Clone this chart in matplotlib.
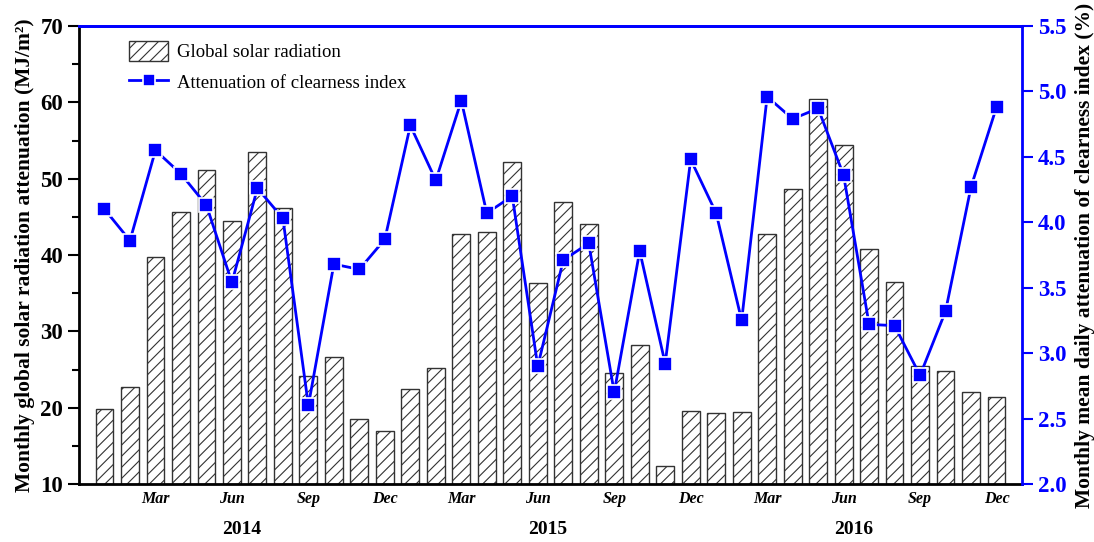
import matplotlib
matplotlib.use("Agg")
import matplotlib.pyplot as plt
from matplotlib.ticker import MultipleLocator
from matplotlib.lines import Line2D
from matplotlib.patches import Patch
import matplotlib.transforms as mtransforms

plt.rcParams['font.family'] = ['Liberation Serif', 'DejaVu Serif']
plt.rcParams['hatch.linewidth'] = 0.8

# Monthly series, Jan 2014 .. Dec 2016
month_index = list(range(1, 37))
radiation = [19.8, 22.7, 39.8, 45.6, 51.2, 44.5, 53.5, 46.2, 24.2, 26.7, 18.5, 16.9,
             22.5, 25.2, 42.8, 43.0, 52.2, 36.3, 46.9, 44.1, 24.6, 28.2, 12.4, 19.6,
             19.3, 19.4, 42.8, 48.7, 60.4, 54.4, 40.8, 36.5, 25.5, 24.8, 22.1, 21.4]
attenuation = [4.10, 3.86, 4.55, 4.37, 4.13, 3.54, 4.26, 4.03, 2.60, 3.68, 3.64, 3.87,
               4.74, 4.32, 4.93, 4.07, 4.20, 2.90, 3.71, 3.84, 2.70, 3.78, 2.92, 4.48,
               4.07, 3.25, 4.96, 4.79, 4.87, 4.36, 3.22, 3.21, 2.83, 3.32, 4.27, 4.88]
tick_months = [3, 6, 9, 12, 15, 18, 21, 24, 27, 30, 33, 36]
tick_labels = ['Mar', 'Jun', 'Sep', 'Dec'] * 3
years = ['2014', '2015', '2016']
year_centres = [6.4, 18.4, 30.4]

BLUE = '#0000ff'

fig = plt.figure(figsize=(10.94, 5.42), dpi=100)
ax = fig.add_axes([79 / 1094, 58 / 542, 943 / 1094, 458 / 542])

ax.bar(month_index, [r - 10 for r in radiation], bottom=10, width=0.7,
       facecolor='white', edgecolor='#333333', linewidth=1.0, hatch='///', zorder=2)
ax.set_xlim(0, 37)
ax.set_ylim(10, 70)
ax.yaxis.set_major_locator(MultipleLocator(10))
ax.yaxis.set_minor_locator(MultipleLocator(5))
ax.tick_params(axis='y', which='major', direction='out', length=8, width=1.5,
               labelsize=16.5)
ax.tick_params(axis='y', which='minor', direction='out', length=5, width=1.5)
for lab in ax.get_yticklabels():
    lab.set_fontweight('bold')
ax.set_xticks(tick_months)
ax.set_xticklabels(tick_labels, fontsize=11.5, fontweight='bold', style='italic')
ax.tick_params(axis='x', length=0, pad=5)
ax.set_ylabel('Monthly global solar radiation attenuation (MJ/m²)',
              fontsize=15.5, fontweight='bold', labelpad=4)

ax.spines['left'].set_linewidth(2)
ax.spines['bottom'].set_linewidth(2)
ax.spines['top'].set_color(BLUE)
ax.spines['top'].set_linewidth(2)
ax.spines['right'].set_visible(False)

trans = mtransforms.blended_transform_factory(ax.transData, fig.transFigure)
for y, xc in zip(years, year_centres):
    fig.text(xc, (542 - 530) / 542, y, transform=trans, ha='center', va='center',
             fontsize=14, fontweight='bold')

ax2 = ax.twinx()
ax2.plot(month_index, attenuation, color=BLUE, linewidth=2, marker='s',
         markersize=10, markerfacecolor=BLUE, markeredgecolor='white',
         markeredgewidth=1.2, zorder=3)
ax2.set_ylim(2.0, 5.5)
ax2.yaxis.set_major_locator(MultipleLocator(0.5))
ax2.tick_params(axis='y', which='major', direction='out', length=8, width=1.5,
                colors=BLUE, labelsize=16.5)
for lab in ax2.get_yticklabels():
    lab.set_fontweight('bold')
ax2.yaxis.set_major_formatter(plt.FuncFormatter(lambda v, p: f'{v:.1f}'))
ax2.set_ylabel('Monthly mean daily attenuation of clearness index (%)',
               fontsize=15.5, fontweight='bold', labelpad=6)
ax2.spines['right'].set_color(BLUE)
ax2.spines['right'].set_linewidth(2)
ax2.spines['top'].set_color(BLUE)
ax2.spines['top'].set_linewidth(2)
ax2.spines['left'].set_visible(False)
ax2.spines['bottom'].set_visible(False)

handles = [Patch(facecolor='white', edgecolor='#333333', hatch='///', linewidth=1.0),
           Line2D([], [], color=BLUE, linewidth=2, marker='s', markersize=9,
                  markerfacecolor=BLUE, markeredgecolor='white', markeredgewidth=1.2)]
ax2.legend(handles, ['Global solar radiation', 'Attenuation of clearness index'],
           loc='upper left', bbox_to_anchor=(0.035, 1.005), frameon=False,
           fontsize=13.5, handlelength=2.1, handleheight=1.3, handletextpad=0.45,
           labelspacing=0.55)

fig.savefig('out.png', dpi=100)
